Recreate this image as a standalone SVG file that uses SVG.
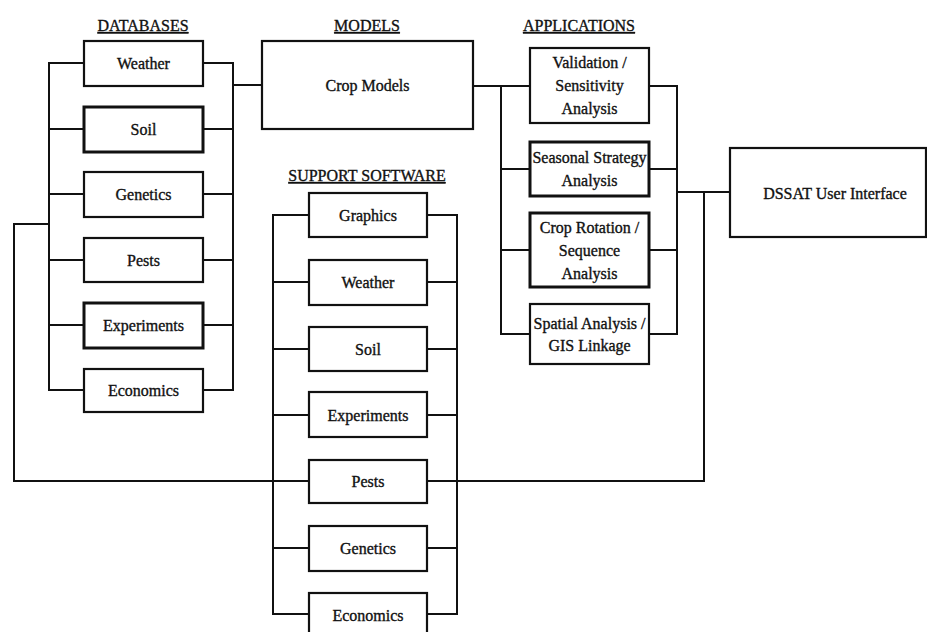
<svg xmlns="http://www.w3.org/2000/svg" width="927" height="632" viewBox="0 0 927 632">
<style>
.box{fill:#fff;stroke:#111;stroke-width:2.2}
.thick{stroke-width:3}
.ln{fill:none;stroke:#111;stroke-width:2}
text{font-family:"Liberation Serif","Times New Roman",serif;font-size:16px;fill:#111;stroke:#111;stroke-width:0.35;text-anchor:middle}
.title{text-decoration:underline}
</style>
<rect width="927" height="632" fill="#fff"/>
<g id="titles">
<text class="title" x="143" y="31">DATABASES</text>
<text class="title" x="367" y="31">MODELS</text>
<text class="title" x="579" y="31">APPLICATIONS</text>
<text class="title" x="367" y="181">SUPPORT SOFTWARE</text>
</g>
<g id="connectors">
<path class="ln" d="M84 63H49V390H84M49 129H84M49 194H84M49 260H84M49 325H84"/>
<path class="ln" d="M203 63H233V390H203M203 129H233M203 194H233M203 260H233M203 325H233M233 85H262"/>
<path class="ln" d="M473 86H530M501 86V334H530M501 169H530M501 250H530"/>
<path class="ln" d="M649 86H677V334H649M649 169H677M649 250H677M677 192H730M704 192V481H427"/>
<path class="ln" d="M309 215H273V614H309M273 282H309M273 349H309M273 415H309M273 548H309"/>
<path class="ln" d="M427 215H457V614H427M427 282H457M427 349H457M427 415H457M427 548H457"/>
<path class="ln" d="M49 224H14V481H309"/>
</g>
<g id="db-weather"><rect class="box" x="84" y="41" width="119" height="45"/><text x="143.5" y="69">Weather</text></g>
<g id="db-soil"><rect class="box thick" x="84" y="107" width="119" height="45"/><text x="143.5" y="135">Soil</text></g>
<g id="db-genetics"><rect class="box" x="84" y="172" width="119" height="45"/><text x="143.5" y="200">Genetics</text></g>
<g id="db-pests"><rect class="box" x="84" y="238" width="119" height="44"/><text x="143.5" y="266">Pests</text></g>
<g id="db-experiments"><rect class="box thick" x="84" y="303" width="119" height="45"/><text x="143.5" y="331">Experiments</text></g>
<g id="db-economics"><rect class="box" x="84" y="369" width="119" height="43"/><text x="143.5" y="396">Economics</text></g>
<g id="crop-models"><rect class="box" x="262" y="41" width="211" height="88"/><text x="367.5" y="91">Crop Models</text></g>
<g id="app-validation"><rect class="box" x="530" y="48" width="119" height="75"/><text x="589.5" y="68">Validation /</text><text x="589.5" y="91">Sensitivity</text><text x="589.5" y="114">Analysis</text></g>
<g id="app-seasonal"><rect class="box thick" x="530" y="142" width="119" height="54"/><text x="589.5" y="163">Seasonal Strategy</text><text x="589.5" y="186">Analysis</text></g>
<g id="app-rotation"><rect class="box thick" x="530" y="213" width="119" height="74"/><text x="589.5" y="233">Crop Rotation /</text><text x="589.5" y="256">Sequence</text><text x="589.5" y="279">Analysis</text></g>
<g id="app-spatial"><rect class="box" x="530" y="304" width="119" height="60"/><text x="589.5" y="329">Spatial Analysis /</text><text x="589.5" y="351">GIS Linkage</text></g>
<g id="dssat"><rect class="box" x="730" y="148" width="196" height="89"/><text x="835" y="199">DSSAT User Interface</text></g>
<g id="ss-graphics"><rect class="box" x="309" y="193" width="118" height="44"/><text x="368" y="221">Graphics</text></g>
<g id="ss-weather"><rect class="box" x="309" y="260" width="118" height="45"/><text x="368" y="288">Weather</text></g>
<g id="ss-soil"><rect class="box" x="309" y="327" width="118" height="44"/><text x="368" y="355">Soil</text></g>
<g id="ss-experiments"><rect class="box" x="309" y="392" width="118" height="45"/><text x="368" y="421">Experiments</text></g>
<g id="ss-pests"><rect class="box" x="309" y="460" width="118" height="43"/><text x="368" y="487">Pests</text></g>
<g id="ss-genetics"><rect class="box" x="309" y="526" width="118" height="45"/><text x="368" y="554">Genetics</text></g>
<g id="ss-economics"><rect class="box" x="309" y="593" width="118" height="45"/><text x="368" y="621">Economics</text></g>
</svg>
